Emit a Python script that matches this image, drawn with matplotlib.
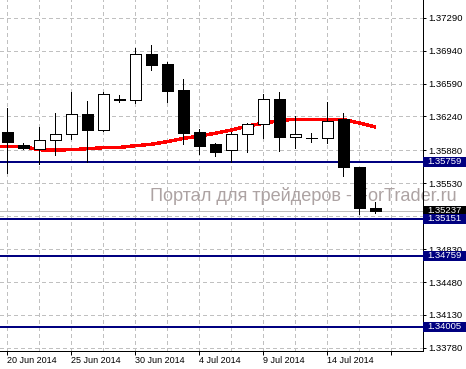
import matplotlib
matplotlib.use("Agg")
import matplotlib.pyplot as plt
from matplotlib.patches import Rectangle
import matplotlib.transforms as mtransforms

# ---------------- data ----------------
opens  = [1.36072, 1.35933, 1.35891, 1.35987, 1.36050, 1.36263, 1.36093, 1.36426,
          1.36412, 1.36901, 1.36798, 1.36521, 1.36072, 1.35944, 1.35880, 1.36050,
          1.36157, 1.36426, 1.36025, 1.36016, 1.36008, 1.36208, 1.35706, 1.35264]
highs  = [1.36333, 1.35955, 1.36128, 1.36274, 1.36500, 1.36404, 1.36497, 1.36465,
          1.36966, 1.37000, 1.36816, 1.36638, 1.36107, 1.35955, 1.36072, 1.36167,
          1.36479, 1.36500, 1.36242, 1.36061, 1.36397, 1.36274, 1.35706, 1.35334]
lows   = [1.35636, 1.35894, 1.35732, 1.35827, 1.35997, 1.35759, 1.36090, 1.36397,
          1.36388, 1.36737, 1.36397, 1.35947, 1.35841, 1.35823, 1.35759, 1.35865,
          1.36014, 1.35876, 1.35908, 1.35972, 1.35961, 1.35610, 1.35198, 1.35217]
closes = [1.35972, 1.35908, 1.35987, 1.36050, 1.36263, 1.36099, 1.36476, 1.36412,
          1.36901, 1.36790, 1.36514, 1.36067, 1.35929, 1.35865, 1.36050, 1.36157,
          1.36426, 1.36025, 1.36050, 1.36014, 1.36195, 1.35698, 1.35270, 1.35237]

ma_start = -1
ma_values = [1.35919, 1.35919, 1.35919, 1.35886, 1.35883, 1.35887, 1.35897, 1.35908,
             1.35910, 1.35929, 1.35944, 1.35972, 1.36006, 1.36032, 1.36061, 1.36096,
             1.36139, 1.36167, 1.36197, 1.36210, 1.36210, 1.36210, 1.36208, 1.36171,
             1.36128]

level_lines = [1.35759, 1.35151, 1.34759, 1.34005]
current_price = 1.35237

price_ticks = [1.37290, 1.36940, 1.36590, 1.36240, 1.35880, 1.35530, 1.35180,
               1.34830, 1.34480, 1.34130, 1.33780]
price_tick_labels = ["1.37290", "1.36940", "1.36590", "1.36240", "1.35880", "1.35530",
                     "", "1.34830", "1.34480", "1.34130", "1.33780"]
date_tick_bars = [0, 4, 8, 12, 16, 20, 24]
date_labels = ["20 Jun 2014", "25 Jun 2014", "30 Jun 2014", "4 Jul 2014",
               "9 Jul 2014", "14 Jul 2014", ""]

watermark = "Портал для трейдеров - ForTrader.ru"

# ---------------- figure ----------------
W, H = 466, 369
PX = 0.72  # points per pixel at dpi 100
FONT = "Liberation Sans"

fig = plt.figure(figsize=(W / 100, H / 100), dpi=100)
fig.patch.set_facecolor("white")
ax = fig.add_axes([0, 18.5 / H, 423 / W, 350.5 / H])
ax.set_facecolor("white")

ax.set_xlim(-0.456, 25.98)
ax.set_ylim(1.33752, 1.37478)
px_price = (1.37478 - 1.33752) / 350.5

# grid
grid_kw = dict(color="#C0C0C0", lw=PX, linestyle=(0, (3, 3)), zorder=1,
               antialiased=False)
for p in price_ticks:
    ax.axhline(p, **grid_kw)
for b in range(0, 26, 2):
    ax.axvline(b, **grid_kw)

# current price line
ax.axhline(current_price, color="#C0C0C0", lw=PX, zorder=1.5, antialiased=False)

# support / resistance levels
for lv in level_lines:
    ax.axhline(lv, color="#000080", lw=2 * PX, zorder=2, antialiased=False)

# moving average
ma_x = list(range(ma_start, ma_start + len(ma_values)))
ax.plot(ma_x, ma_values, color="#FF0000", lw=2.4 * PX, zorder=2.5,
        solid_capstyle="butt", antialiased=False)

# candles
bw = 0.66
for i, (o, h, l, c) in enumerate(zip(opens, highs, lows, closes)):
    ax.vlines(i, l, h, color="black", lw=PX, zorder=3, antialiased=False)
    bottom = min(o, c)
    height = abs(c - o)
    face = "white" if c > o else "black"
    ax.add_patch(Rectangle((i - bw / 2, bottom), bw, height, facecolor=face,
                           edgecolor="black", lw=PX, zorder=4,
                           antialiased=False))

# spines
for s in ("top", "left"):
    ax.spines[s].set_visible(False)
for s in ("right", "bottom"):
    ax.spines[s].set_color("black")
    ax.spines[s].set_linewidth(PX)

# y ticks on right
ax.yaxis.tick_right()
ax.set_yticks(price_ticks)
ax.set_yticklabels(price_tick_labels)
ax.tick_params(axis="y", direction="out", length=3 * PX, width=PX,
               pad=1.3, labelsize=6.8, colors="black")

# x ticks
ax.set_xticks(date_tick_bars)
ax.set_xticklabels(date_labels)
ax.tick_params(axis="x", direction="out", length=4 * PX, width=PX,
               pad=0.8, labelsize=6.5, colors="black")
for lbl in ax.get_xticklabels() + ax.get_yticklabels():
    lbl.set_fontfamily(FONT)
for lbl in ax.get_xticklabels():
    lbl.set_ha("left")

# price boxes on the right axis
trans = mtransforms.blended_transform_factory(ax.transAxes, ax.transData)
box_h = 10 * px_price
box_w = 43 / 423
def price_box(p, color, z):
    ax.add_patch(Rectangle((1.0, p - box_h / 2), box_w, box_h, transform=trans,
                           facecolor=color, edgecolor="none", clip_on=False,
                           zorder=z, antialiased=False))
    ax.text(1.0 + 4.7 / 423, p, f"{p:.5f}", transform=trans, ha="left",
            va="center", color="white", fontsize=6.8, fontfamily=FONT,
            clip_on=False, zorder=z + 0.1)

price_box(current_price, "black", 6)
for lv in level_lines:
    price_box(lv, "#000080", 7)

# watermark
ax.text(150 / W, (H - 200.7) / H, watermark, transform=fig.transFigure,
        ha="left", va="baseline", fontsize=13.1, fontfamily=FONT,
        color="#ADA3A3", clip_on=False, zorder=1.2)

fig.savefig("out.png", dpi=100, facecolor="white")
